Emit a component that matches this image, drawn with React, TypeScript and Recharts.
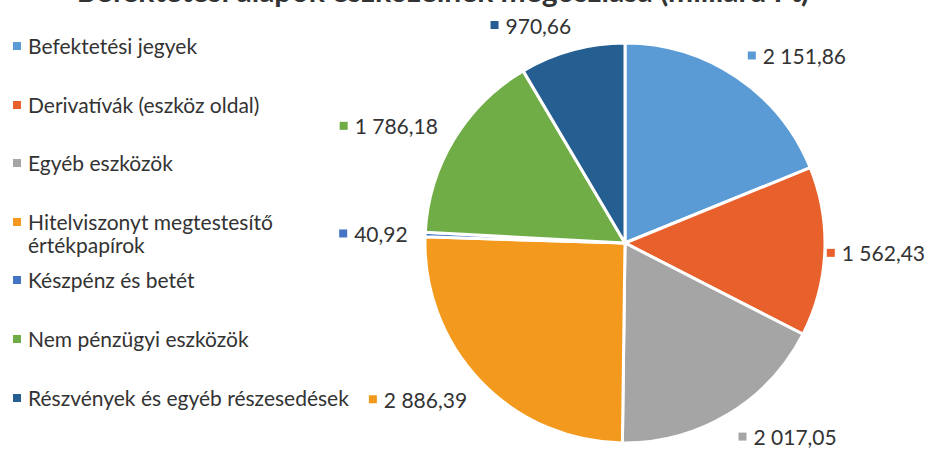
import { PieChart, Pie, Cell, Legend } from 'recharts';

const categories = [
  'Befektetési jegyek',
  'Derivatívák (eszköz oldal)',
  'Egyéb eszközök',
  'Hitelviszonyt megtestesítő értékpapírok',
  'Készpénz és betét',
  'Nem pénzügyi eszközök',
  'Részvények és egyéb részesedések',
];
const values = [2151.86, 1562.43, 2017.05, 2886.39, 40.92, 1786.18, 970.66];
const valueLabels = ['2 151,86', '1 562,43', '2 017,05', '2 886,39', '40,92', '1 786,18', '970,66'];

const COLORS = ['#5B9BD5', '#E8602C', '#A5A5A5', '#F39A1E', '#4472C4', '#70AD47', '#255E91'];
const FONT = 'Lato, "Open Sans", sans-serif';
const LEGEND_W = 360;
const CHART_W = 936;

const data = categories.map((name, i) => ({ name, value: values[i], label: valueLabels[i] }));

const RAD = Math.PI / 180;

function renderLabel(props: any) {
  const { cx, cy, midAngle, outerRadius, index } = props;
  const text = valueLabels[index];
  const textW = text.length * 10.4;
  const w = 14 + textW;
  // recharts angle: 0 = right, counterclockwise
  const dx = Math.cos(midAngle * RAD);
  const dy = -Math.sin(midAngle * RAD);
  const r = outerRadius + 20;
  const px = cx + r * dx;
  const py = cy + r * dy;
  let left = dx >= 0 ? px : px - w;
  left = Math.min(left, CHART_W - w - 12);
  const by = py + dy * 6;
  return (
    <g key={`lbl-${index}`}>
      <rect x={left} y={by - 4} width={8} height={8} fill={COLORS[index]} />
      <text x={left + 15} y={by} dominantBaseline="central" fontSize={21} fontFamily={FONT} fill="#333">
        {text}
      </text>
    </g>
  );
}

function LegendContent() {
  return (
    <div style={{ width: LEGEND_W, fontFamily: FONT, fontSize: 21, color: '#333' }}>
      {categories.map((c, i) => (
        <div key={c} style={{ position: 'relative', height: 58.6, paddingLeft: 28, lineHeight: '23px', boxSizing: 'border-box', width: 360 }}>
          <span style={{ position: 'absolute', left: 13, top: 8, width: 8, height: 8, background: COLORS[i] }} />
          <div style={{ width: 330 }}>{c}</div>
        </div>
      ))}
    </div>
  );
}

export default function App() {
  return (
    <div style={{ position: 'absolute', left: 0, top: 0, width: CHART_W, height: 450, overflow: 'hidden', background: '#fff' }}>
      <div
        style={{
          position: 'absolute',
          left: 0,
          width: 886,
          top: -27,
          textAlign: 'center',
          fontFamily: FONT,
          fontWeight: 700,
          fontSize: 30,
          lineHeight: '34px',
          color: '#333',
        }}
      >
        Befektetési alapok eszközeinek megoszlása (milliárd Ft)
      </div>
      <PieChart width={CHART_W} height={450}>
        <Legend
          layout="vertical"
          align="left"
          verticalAlign="top"
          content={<LegendContent />}
          wrapperStyle={{ left: 0, top: 34, width: LEGEND_W }}
        />
        <Pie
          data={data}
          dataKey="value"
          nameKey="name"
          cx={620 - LEGEND_W}
          cy={238}
          outerRadius={200}
          startAngle={90}
          endAngle={-270}
          stroke="#fff"
          strokeWidth={3}
          label={renderLabel}
          labelLine={false}
          isAnimationActive={false}
        >
          {data.map((d, i) => (
            <Cell key={d.name} fill={COLORS[i]} />
          ))}
        </Pie>
      </PieChart>
    </div>
  );
}
